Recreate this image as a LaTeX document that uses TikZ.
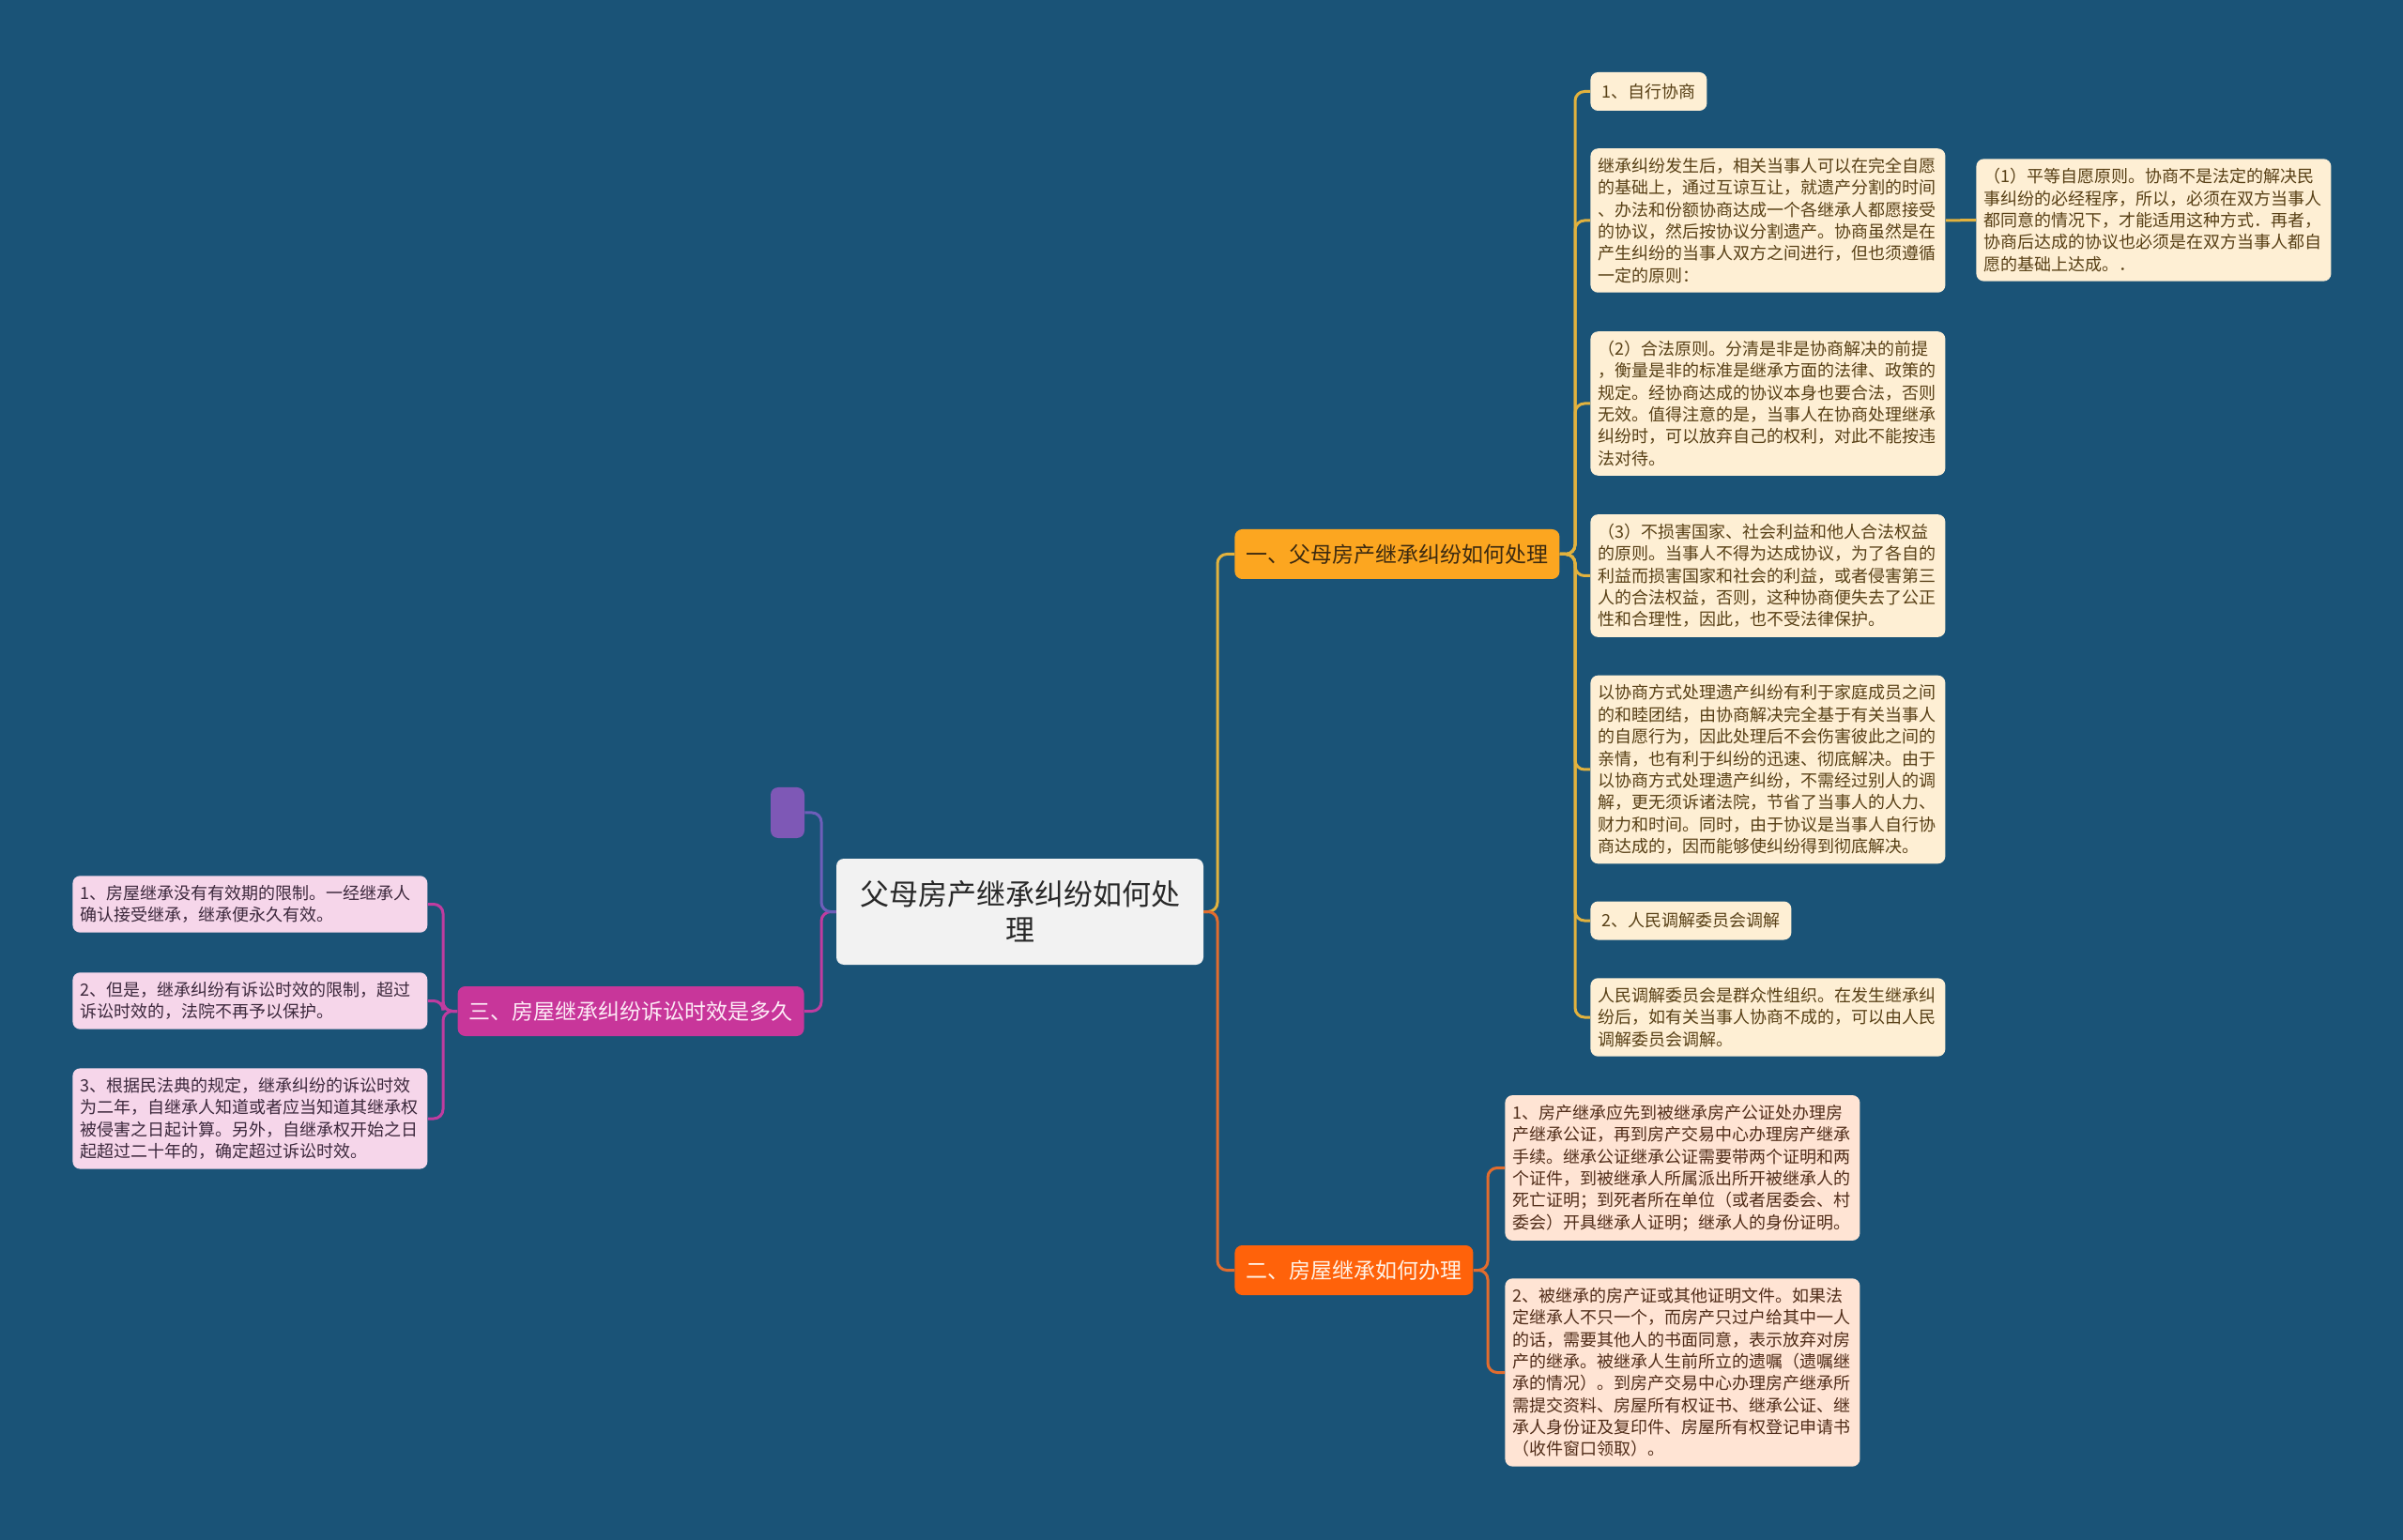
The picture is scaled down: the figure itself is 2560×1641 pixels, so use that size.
\documentclass[tikz,border=0pt]{standalone}
\usepackage{fontspec}
\setmainfont{Noto Sans CJK SC}
\usepackage{xcolor}

\definecolor{bg}{RGB}{26,83,119}
\definecolor{rootfill}{RGB}{242,242,242}
\definecolor{roottext}{RGB}{40,40,40}
\definecolor{onefill}{RGB}{252,166,32}
\definecolor{onetext}{RGB}{60,42,16}
\definecolor{oneline}{RGB}{226,178,62}
\definecolor{oneleaf}{RGB}{254,239,212}
\definecolor{oneleaftext}{RGB}{88,64,22}
\definecolor{twofill}{RGB}{255,98,10}
\definecolor{twotext}{RGB}{255,242,230}
\definecolor{twoline}{RGB}{226,108,46}
\definecolor{twoleaf}{RGB}{255,228,212}
\definecolor{twoleaftext}{RGB}{80,44,24}
\definecolor{threefill}{RGB}{200,54,154}
\definecolor{threetext}{RGB}{253,235,246}
\definecolor{threeline}{RGB}{192,60,160}
\definecolor{threeleaf}{RGB}{246,214,234}
\definecolor{threeleaftext}{RGB}{60,40,60}
\definecolor{blankfill}{RGB}{126,88,182}
\definecolor{blankline}{RGB}{110,94,186}

\begin{document}
\begin{tikzpicture}[x=0.5pt,y=-0.5pt,
    leaf/.style={rounded corners=4pt, align=left, anchor=west, inner xsep=4pt, inner ysep=5pt,
        text width=181pt, font=\fontsize{9}{11.67}\selectfont},
    tag/.style={rounded corners=4pt, anchor=west, inner xsep=6pt, inner ysep=0pt,
        minimum height=20.5pt, font=\fontsize{9}{11.67}\selectfont},
    branch/.style={rounded corners=4pt, inner xsep=6pt, inner ysep=0pt,
        minimum height=26.5pt, font=\fontsize{11.5}{14}\selectfont},
    link/.style={line width=1.5pt, rounded corners=5pt}]

    % Background and page size
        \fill[bg] (0,0) rectangle (2560,1641);
        \useasboundingbox (0,0) rectangle (2560,1641);

    % First, locate each of the nodes and name them
        \node (root) at (1086.5,971.5) [fill=rootfill, text=roottext, rounded corners=4pt,
            minimum width=195.5pt, minimum height=56.5pt, text width=180pt, align=center,
            font=\fontsize{15.5}{19}\selectfont] {父母房产继承纠纷如何处\\理};

        \node (sec1) at (1315,590.5) [branch, anchor=west, fill=onefill, text=onetext] {一、父母房产继承纠纷如何处理};
        \node (sec2) at (1315,1353.5) [branch, anchor=west, fill=twofill, text=twotext] {二、房屋继承如何办理};
        \node (sec3) at (857,1077.5) [branch, anchor=east, fill=threefill, text=threetext] {三、房屋继承纠纷诉讼时效是多久};
        \node (blank) at (839,866) [fill=blankfill, rounded corners=4pt, inner sep=0pt,
            minimum width=18pt, minimum height=27pt] {};

        \node (talk) at (1694,97.5) [tag, fill=oneleaf, text=oneleaftext] {1、自行协商};
        \node (talktext) at (1694,235) [leaf, fill=oneleaf, text=oneleaftext] {继承纠纷发生后，相关当事人可以在完全自愿\\的基础上，通过互谅互让，就遗产分割的时间\\、办法和份额协商达成一个各继承人都愿接受\\的协议，然后按协议分割遗产。协商虽然是在\\产生纠纷的当事人双方之间进行，但也须遵循\\一定的原则：};
        \node (equal) at (2105,234.5) [leaf, fill=oneleaf, text=oneleaftext] {（1）平等自愿原则。协商不是法定的解决民\\事纠纷的必经程序，所以，必须在双方当事人\\都同意的情况下，才能适用这种方式．再者，\\协商后达成的协议也必须是在双方当事人都自\\愿的基础上达成。．};
        \node (legal) at (1694,430) [leaf, fill=oneleaf, text=oneleaftext] {（2）合法原则。分清是非是协商解决的前提\\，衡量是非的标准是继承方面的法律、政策的\\规定。经协商达成的协议本身也要合法，否则\\无效。值得注意的是，当事人在协商处理继承\\纠纷时，可以放弃自己的权利，对此不能按违\\法对待。};
        \node (harm) at (1694,613.5) [leaf, fill=oneleaf, text=oneleaftext] {（3）不损害国家、社会利益和他人合法权益\\的原则。当事人不得为达成协议，为了各自的\\利益而损害国家和社会的利益，或者侵害第三\\人的合法权益，否则，这种协商便失去了公正\\性和合理性，因此，也不受法律保护。};
        \node (merit) at (1694,820) [leaf, fill=oneleaf, text=oneleaftext] {以协商方式处理遗产纠纷有利于家庭成员之间\\的和睦团结，由协商解决完全基于有关当事人\\的自愿行为，因此处理后不会伤害彼此之间的\\亲情，也有利于纠纷的迅速、彻底解决。由于\\以协商方式处理遗产纠纷，不需经过别人的调\\解，更无须诉诸法院，节省了当事人的人力、\\财力和时间。同时，由于协议是当事人自行协\\商达成的，因而能够使纠纷得到彻底解决。};
        \node (mediate) at (1694,981) [tag, fill=oneleaf, text=oneleaftext] {2、人民调解委员会调解};
        \node (mediatetext) at (1694,1084) [leaf, fill=oneleaf, text=oneleaftext] {人民调解委员会是群众性组织。在发生继承纠\\纷后，如有关当事人协商不成的，可以由人民\\调解委员会调解。};

        \node (notary) at (1603,1244.5) [leaf, fill=twoleaf, text=twoleaftext] {1、房产继承应先到被继承房产公证处办理房\\产继承公证，再到房产交易中心办理房产继承\\手续。继承公证继承公证需要带两个证明和两\\个证件，到被继承人所属派出所开被继承人的\\死亡证明；到死者所在单位（或者居委会、村\\委会）开具继承人证明；继承人的身份证明。};
        \node (papers) at (1603,1462.5) [leaf, fill=twoleaf, text=twoleaftext] {2、被继承的房产证或其他证明文件。如果法\\定继承人不只一个，而房产只过户给其中一人\\的话，需要其他人的书面同意，表示放弃对房\\产的继承。被继承人生前所立的遗嘱（遗嘱继\\承的情况）。到房产交易中心办理房产继承所\\需提交资料、房屋所有权证书、继承公证、继\\承人身份证及复印件、房屋所有权登记申请书\\（收件窗口领取）。};

        \node (forever) at (77,963.5) [leaf, fill=threeleaf, text=threeleaftext] {1、房屋继承没有有效期的限制。一经继承人\\确认接受继承，继承便永久有效。};
        \node (limit) at (77,1066.5) [leaf, fill=threeleaf, text=threeleaftext] {2、但是，继承纠纷有诉讼时效的限制，超过\\诉讼时效的，法院不再予以保护。};
        \node (period) at (77,1192) [leaf, fill=threeleaf, text=threeleaftext] {3、根据民法典的规定，继承纠纷的诉讼时效\\为二年，自继承人知道或者应当知道其继承权\\被侵害之日起计算。另外，自继承权开始之日\\起超过二十年的，确定超过诉讼时效。};

    % Junction points of the connectors
        \coordinate (rootR) at (1297,971.5);
        \coordinate (rootL) at (875,971.5);
        \coordinate (oneJ) at (1678,590.5);
        \coordinate (twoJ) at (1585,1353.5);
        \coordinate (threeJ) at (472,1077.5);

    % Now draw the lines:
        \draw [link, oneline] (root.east) -- (rootR) |- (sec1.west);
        \draw [link, twoline] (root.east) -- (rootR) |- (sec2.west);
        \draw [link, threeline] (root.west) -- (rootL) |- (sec3.east);
        \draw [link, blankline] (root.west) -- (rootL) |- (blank.east);
        \draw [link, oneline] (sec1.east) -- (oneJ) |- (talk.west);
        \draw [link, oneline] (sec1.east) -- (oneJ) |- (talktext.west);
        \draw [link, oneline] (sec1.east) -- (oneJ) |- (legal.west);
        \draw [link, oneline] (sec1.east) -- (oneJ) |- (harm.west);
        \draw [link, oneline] (sec1.east) -- (oneJ) |- (merit.west);
        \draw [link, oneline] (sec1.east) -- (oneJ) |- (mediate.west);
        \draw [link, oneline] (sec1.east) -- (oneJ) |- (mediatetext.west);
        \draw [link, oneline] (talktext.east) -- (equal.west);
        \draw [link, twoline] (sec2.east) -- (twoJ) |- (notary.west);
        \draw [link, twoline] (sec2.east) -- (twoJ) |- (papers.west);
        \draw [link, threeline] (sec3.west) -- (threeJ) |- (forever.east);
        \draw [link, threeline] (sec3.west) -- (threeJ) |- (limit.east);
        \draw [link, threeline] (sec3.west) -- (threeJ) |- (period.east);
\end{tikzpicture}
\end{document}
